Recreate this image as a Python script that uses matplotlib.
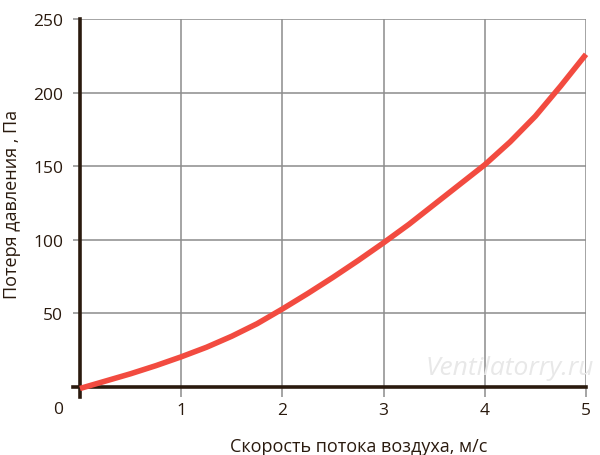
import matplotlib
matplotlib.use("Agg")
import matplotlib.pyplot as plt

# speed (m/s) vs pressure loss (Pa)
speed = [0, 0.25, 0.5, 0.75, 1, 1.25, 1.5, 1.75, 2, 2.25, 2.5, 2.75, 3,
         3.25, 3.5, 3.75, 4, 4.25, 4.5, 4.75, 5]
loss = [-1, 4, 9, 14.5, 20.5, 27, 34.5, 43, 53, 63.5, 74.5, 86, 98,
        110.5, 124, 137.5, 151, 166.5, 184, 204.5, 226]

x_ticks = [1, 2, 3, 4, 5]
y_ticks = [50, 100, 150, 200, 250]

plt.rcParams['font.family'] = ['Open Sans', 'DejaVu Sans']
txt = '#2a1a0e'
grid_col = '#8c8c8c'

fig = plt.figure(figsize=(6, 4.56), dpi=100)
ax = fig.add_axes([80/600, 68/456, 506/600, 368/456])

ax.set_xlim(0, 5)
ax.set_ylim(0, 250)
ax.set_xticks(x_ticks)
ax.set_yticks(y_ticks)
ax.grid(True, color=grid_col, linewidth=1.1)
for s in ax.spines.values():
    s.set_visible(False)
ax.tick_params(axis='both', colors=grid_col, width=1.1, labelcolor=txt, labelsize=12.5)
ax.tick_params(axis='x', length=7.5, pad=3)
ax.tick_params(axis='y', length=5, pad=7)

# dark axis lines, slightly longer than the plot area
ax.axvline(0, ymin=-0.027, ymax=1, color=txt, linewidth=2.6, clip_on=False, zorder=3)
ax.axhline(0, xmin=-0.014, xmax=1, color=txt, linewidth=2.6, clip_on=False, zorder=3)

ax.plot(speed, loss, color='#f24b40', linewidth=4, solid_capstyle='butt',
        solid_joinstyle='round', clip_on=False, zorder=4)

ax.text(-0.043, -0.06, '0', transform=ax.transAxes, ha='center', va='center',
        fontsize=12.5, color=txt)

ax.set_xlabel('Скорость потока воздуха, м/с', fontsize=13, color=txt)
ax.xaxis.set_label_coords(0.55, -0.135)
ax.set_ylabel('Потеря давления , Па', fontsize=13, color=txt, labelpad=9)

ax.text(0.85, 0.054, 'Ventilatorry.ru', transform=ax.transAxes, ha='center', va='center',
        fontsize=19, style='italic', color='#e8e8e8', zorder=2, clip_on=False)

fig.savefig('out.png', dpi=100)
